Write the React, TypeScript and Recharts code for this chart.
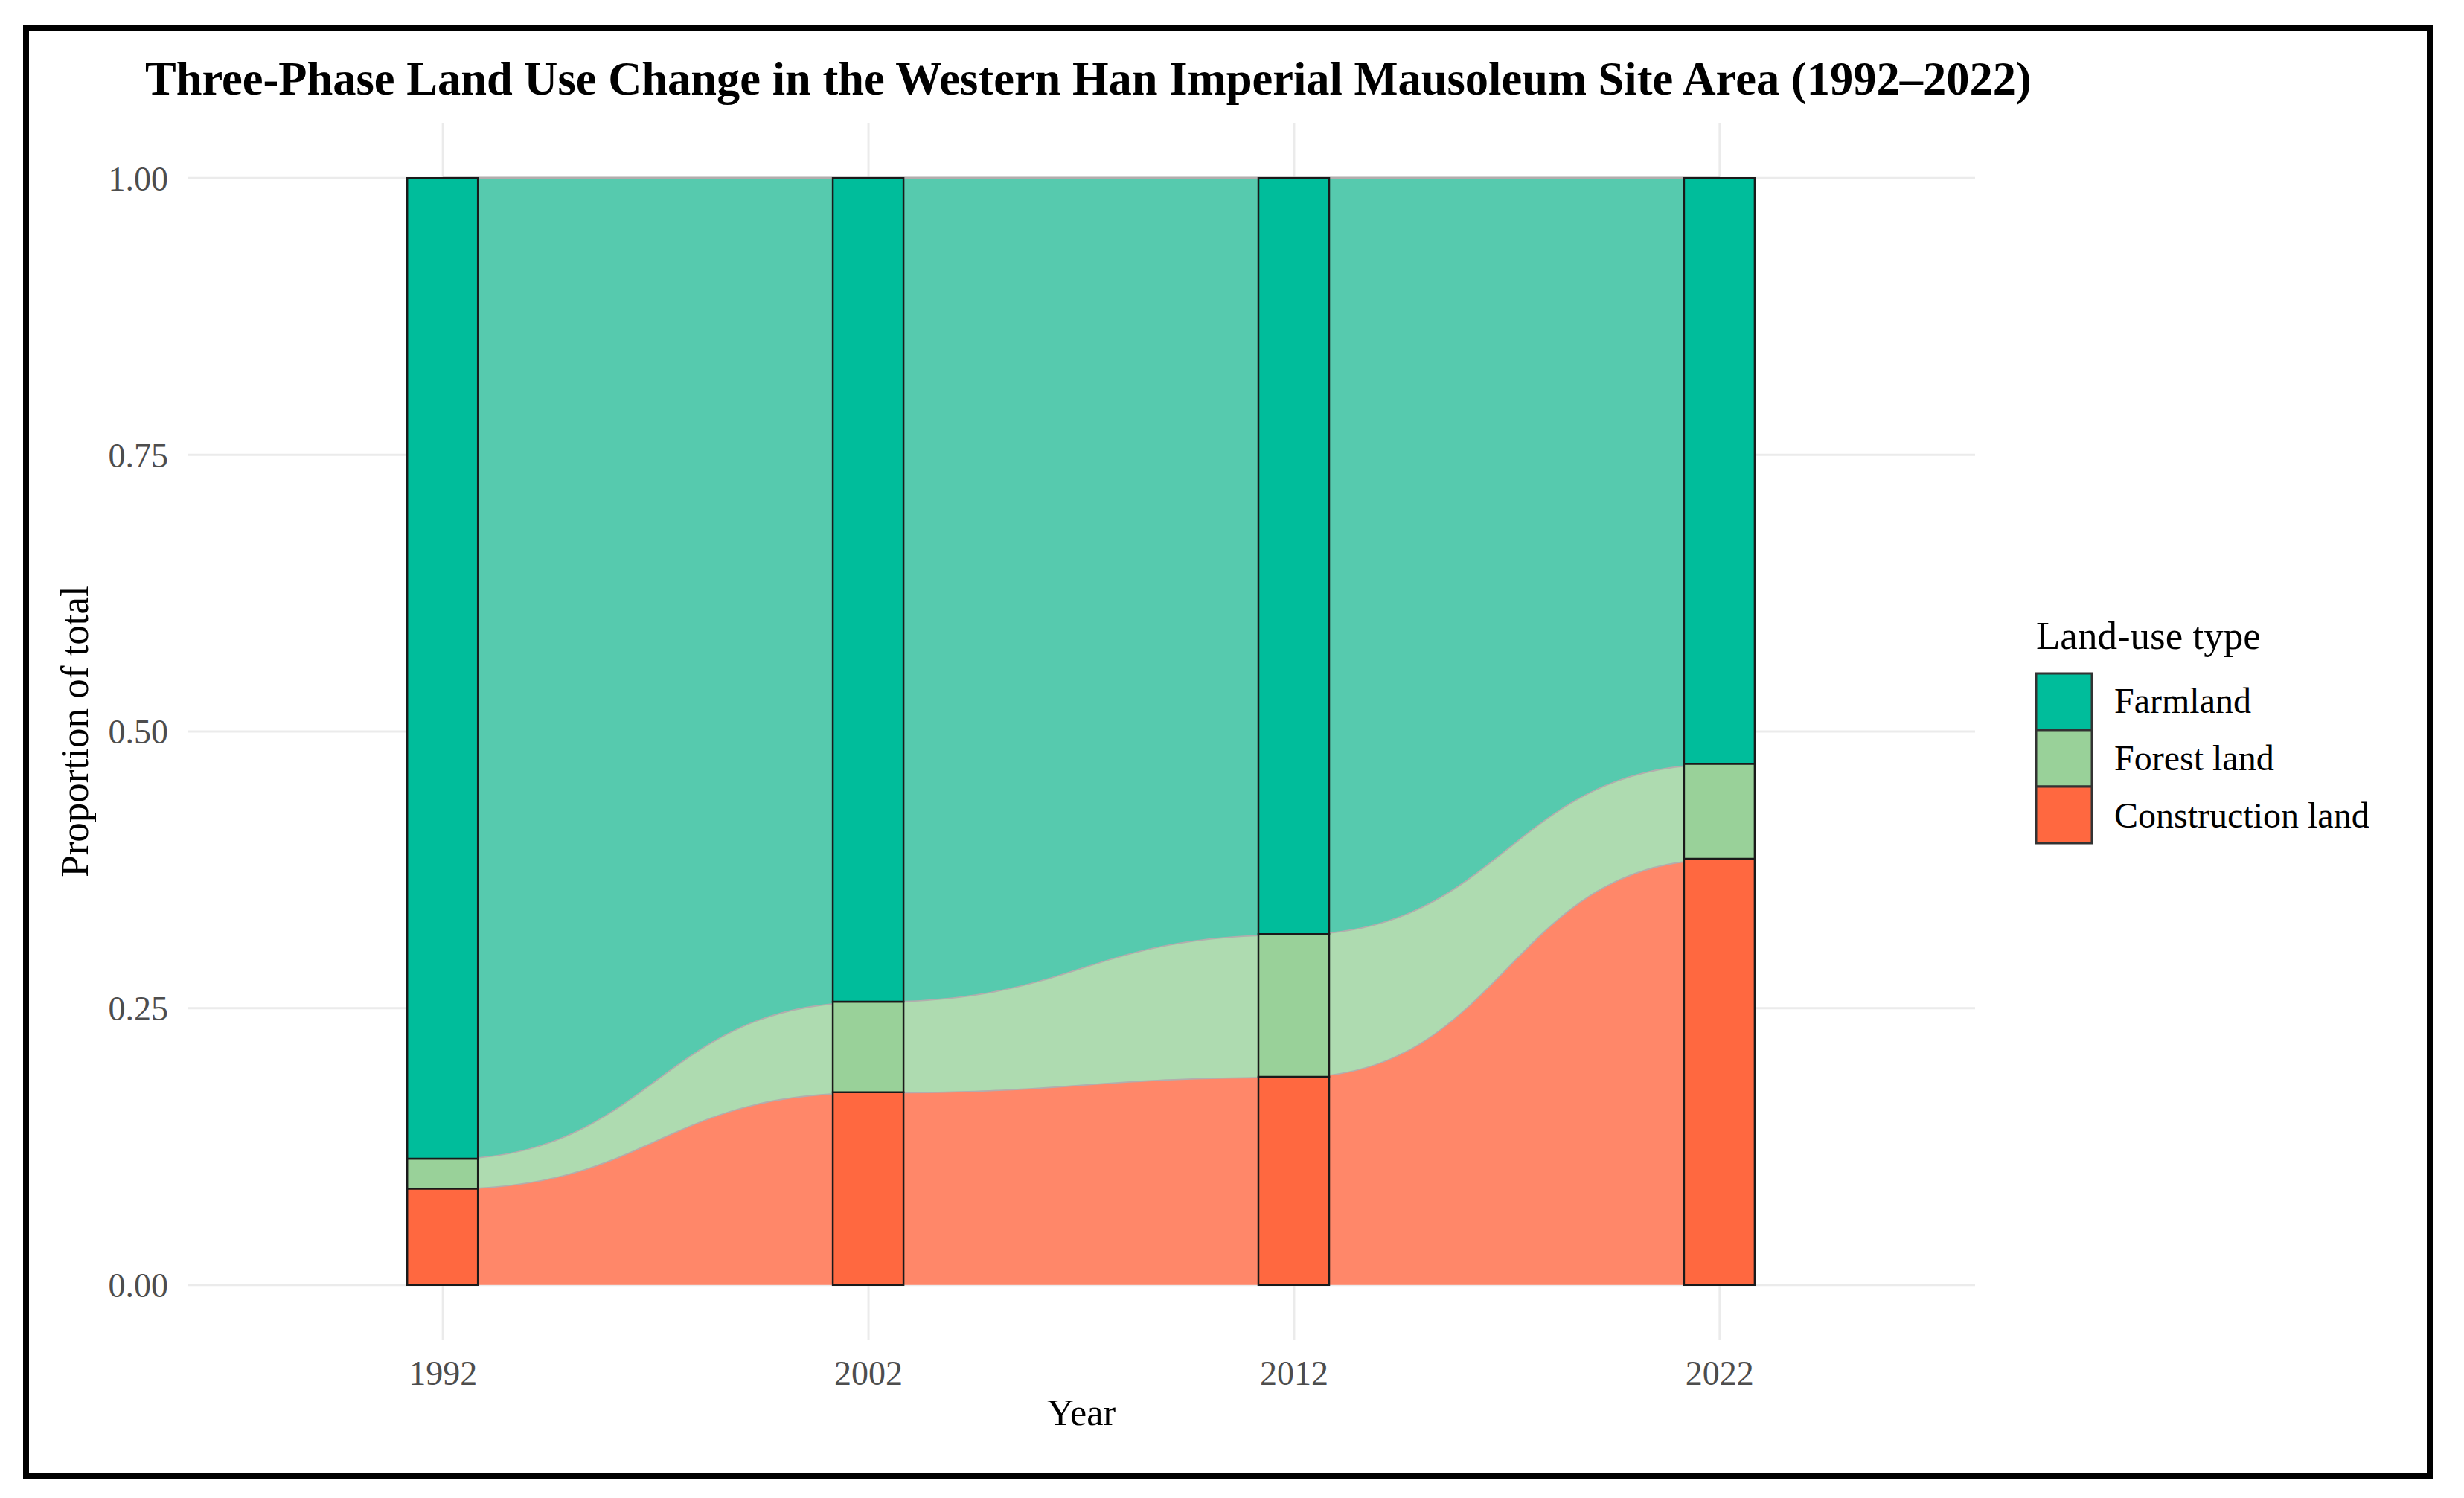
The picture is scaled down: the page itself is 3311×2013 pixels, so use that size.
import { ComposedChart, Area, Bar, XAxis, YAxis, CartesianGrid } from 'recharts';

const years = [1992, 2002, 2012, 2022];
const construction = [0.087, 0.174, 0.188, 0.385];
const forest = [0.027, 0.082, 0.129, 0.086];
const farmland = [0.886, 0.744, 0.683, 0.529];

const landTypes = ['Farmland', 'Forest land', 'Construction land'];
const yTicks = [0, 0.25, 0.5, 0.75, 1];

const SERIF = '"Liberation Serif", "Times New Roman", serif';

const barColors: Record<string, string> = {
  Farmland: '#00BD9B',
  'Forest land': '#99D199',
  'Construction land': '#FF6840',
};
const flowColors: Record<string, string> = {
  Farmland: '#56CAAE',
  'Forest land': '#AEDBB0',
  'Construction land': '#FF8769',
};

const data = years.map((year, i) => ({
  year,
  construction: construction[i],
  forest: forest[i],
  farmland: farmland[i],
}));

// stacking order bottom -> top
const layers = [
  { key: 'construction', name: 'Construction land' },
  { key: 'forest', name: 'Forest land' },
  { key: 'farmland', name: 'Farmland' },
];

const W = 3311;
const H = 2013;

export default function App() {
  return (
    <div style={{ position: 'absolute', left: 0, top: 0, width: W, height: H, background: '#fff' }}>
      <ComposedChart
        width={W}
        height={H}
        data={data}
        margin={{ top: 165, right: 657, bottom: 82, left: 62 }}
      >
        <CartesianGrid stroke="#EBEBEB" strokeWidth={3} verticalValues={years} horizontalValues={yTicks} />
        <XAxis
          dataKey="year"
          type="number"
          domain={[1986, 2028]}
          ticks={years}
          allowDataOverflow
          axisLine={false}
          tickLine={false}
          tickSize={6}
          tickMargin={21}
          height={130}
          tick={{ fontSize: 46, fontFamily: SERIF, fill: '#4D4D4D' }}
          label={{ value: 'Year', position: 'insideBottom', offset: 16, fontSize: 50, fontFamily: SERIF, fill: '#000' }}
        />
        <YAxis
          type="number"
          domain={[-0.05, 1.05]}
          ticks={yTicks}
          allowDataOverflow
          axisLine={false}
          tickLine={false}
          tickSize={6}
          tickMargin={20}
          width={190}
          tickFormatter={(v: number) => v.toFixed(2)}
          tick={{ fontSize: 46, fontFamily: SERIF, fill: '#4D4D4D' }}
          label={{
            value: 'Proportion of total',
            angle: -90,
            position: 'insideLeft',
            offset: 37,
            fontSize: 53,
            fontFamily: SERIF,
            fill: '#000',
            style: { textAnchor: 'middle' },
          }}
        />
        {layers.map((l) => (
          <Area
            key={`flow-${l.key}`}
            dataKey={l.key}
            name={l.name}
            stackId="flow"
            type="bumpX"
            fill={flowColors[l.name]}
            fillOpacity={1}
            stroke="#B2ADAD"
            strokeWidth={3.5}
            dot={false}
            activeDot={false}
            isAnimationActive={false}
          />
        ))}
        {layers.map((l) => (
          <Bar
            key={`bar-${l.key}`}
            dataKey={l.key}
            name={l.name}
            stackId="bar"
            barSize={95}
            fill={barColors[l.name]}
            stroke="#1A1A1A"
            strokeWidth={2.5}
            isAnimationActive={false}
          />
        ))}
      </ComposedChart>

      <svg
        width={W}
        height={H}
        style={{ position: 'absolute', left: 0, top: 0, pointerEvents: 'none' }}
      >
        <text x={195} y={127} fontFamily={SERIF} fontWeight="bold" fontSize={62.5} fill="#000">
          Three-Phase Land Use Change in the Western Han Imperial Mausoleum Site Area (1992–2022)
        </text>
        <text x={2736} y={872} fontFamily={SERIF} fontSize={53} fill="#000">
          Land-use type
        </text>
        {landTypes.map((name, i) => (
          <g key={name}>
            <rect
              x={2736}
              y={905 + i * 76}
              width={75}
              height={76}
              fill={barColors[name]}
              stroke="#333"
              strokeWidth={3}
            />
            <text x={2841} y={958 + i * 77} fontFamily={SERIF} fontSize={48} fill="#000">
              {name}
            </text>
          </g>
        ))}
      </svg>

      <div
        style={{
          position: 'absolute',
          left: 31,
          top: 33,
          width: 3269 - 31,
          height: 1987 - 33,
          border: '8px solid #000',
          boxSizing: 'border-box',
          pointerEvents: 'none',
        }}
      />
    </div>
  );
}
